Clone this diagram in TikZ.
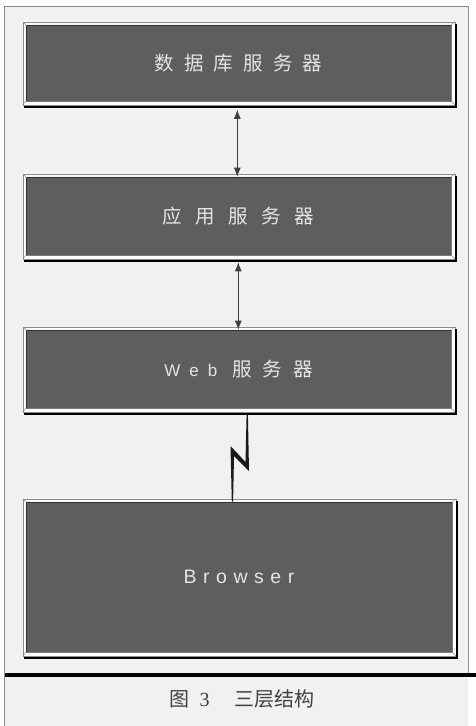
\documentclass[tikz,border=0pt]{standalone}
\usepackage{fontspec}
\setmainfont{Liberation Sans}
\newfontfamily\cjk{Noto Sans CJK SC}
\newfontfamily\capserif{Liberation Serif}
\usetikzlibrary{arrows.meta,calc}
\definecolor{face}{HTML}{5E5E5E}
\definecolor{paper}{HTML}{F1F1F1}
\definecolor{labelgray}{HTML}{E4E4E4}
\definecolor{framegray}{HTML}{8C8C8C}
\newcommand\bevelpanel[1]{%
  \fill[white, even odd rule] ([shift={(-3pt,3pt)}]#1.north west) rectangle ([shift={(3.5pt,-3.5pt)}]#1.south east)
        ([shift={(-0.3pt,0.3pt)}]#1.north west) rectangle ([shift={(0.3pt,-0.3pt)}]#1.south east);
  \draw[beveledge] ([shift={(-3pt,3pt)}]#1.north west) rectangle ([shift={(3.5pt,-3.5pt)}]#1.south east);
  \draw[beveledge] (#1.north west) -- ([shift={(-3pt,3pt)}]#1.north west)
                   (#1.north east) -- ([shift={(3.5pt,3pt)}]#1.north east)
                   (#1.south east) -- ([shift={(3.5pt,-3.5pt)}]#1.south east)
                   (#1.south west) -- ([shift={(-3pt,-3.5pt)}]#1.south west);
  \draw[shadowline] ([shift={(-2pt,-6pt)}]#1.south west) -- ([shift={(5pt,-6pt)}]#1.south east) -- ([shift={(5pt,1pt)}]#1.north east);
}
\begin{document}
\begin{tikzpicture}[x=1pt,y=-1pt,
  panel/.style={fill=face, draw=black!80, line width=0.6pt, inner sep=0pt, text=labelgray, minimum width=425pt},
  cjklabel/.style={font=\cjk\fontsize{19.5}{19.5}\selectfont},
  latinlabel/.style={font=\fontsize{19.5}{19.5}\selectfont},
  link/.style={draw=black!75, line width=0.8pt, {Latex[length=9pt,width=7pt]}-{Latex[length=9pt,width=7pt]}},
  shadowline/.style={line width=2pt, black, line join=miter},
  beveledge/.style={draw=black!45, line width=0.4pt},
  bolt/.style={fill=black!90},
  caption/.style={font=\cjk\fontsize{20}{20}\selectfont, text=black!75}
]
\useasboundingbox (0,0) rectangle (476,726);
\fill[white] (0,0) rectangle (476,726);
\fill[paper] (4.5,6) rectangle (468,726);
\draw[framegray, line width=0.8pt] (4.5,726) -- (4.5,6) -- (468,6) -- (468,673);
\draw[black, line width=4pt] (5,674.7) -- (476,674.7);

\node[panel, cjklabel, minimum height=76pt] (db) at (238.5,63)
  {数\hspace{10.2pt}据\hspace{10.2pt}库\hspace{10.2pt}服\hspace{10.2pt}务\hspace{10.2pt}器};
\bevelpanel{db}
\node[panel, cjklabel, minimum height=78pt] (app) at (238.5,216)
  {应\hspace{13.5pt}用\hspace{13.5pt}服\hspace{13.5pt}务\hspace{13.5pt}器};
\bevelpanel{app}
\node[panel, cjklabel, minimum height=78pt] (web) at (238.5,369)
  {{\fontspec{Liberation Sans}\fontsize{17}{17}\selectfont W\hspace{9pt}e\hspace{9pt}b}\hspace{15pt}服\hspace{11pt}务\hspace{11pt}器};
\bevelpanel{web}
\node[panel, latinlabel, minimum width=426pt, minimum height=150pt] (br) at (239,577)
  {B\hspace{6.5pt}r\hspace{6.5pt}o\hspace{6.5pt}w\hspace{6.5pt}s\hspace{6.5pt}e\hspace{6.5pt}r};
\bevelpanel{br}

\draw[link] ([xshift=-1.2pt,yshift=-8.5pt]db.south) -- ([xshift=-1.2pt]app.north);
\draw[link] ([xshift=-0.2pt,yshift=-7pt]app.south) -- ([xshift=-0.2pt]web.north);

\coordinate (zt) at ([xshift=8.1pt,yshift=-6pt]web.south);
\coordinate (zb) at ([xshift=-7.2pt]br.north);
\fill[bolt] (zt) -- ++(1.3,0) -- (249,471) -- (234,456) -- ($(zb)+(1.3,0)$) -- (zb)
  -- (230.5,446) -- (245.5,462) -- cycle;

\node[caption] (cap) at (242,699) {图\hspace{10pt}{\capserif 3}\hspace{25pt}三层结构};
\end{tikzpicture}
\end{document}
